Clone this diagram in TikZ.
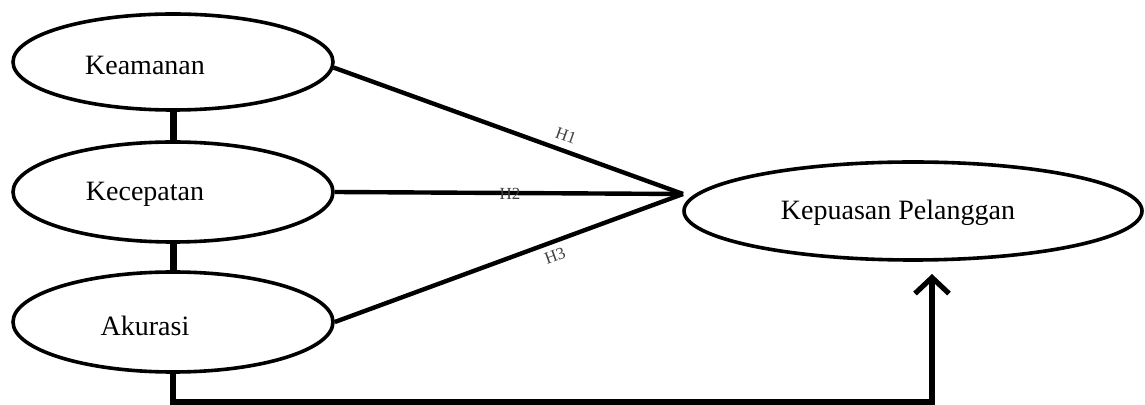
\documentclass[tikz,border=0pt]{standalone}
\usepackage{fontspec}
\setmainfont{Liberation Serif}
\usetikzlibrary{shapes.geometric,arrows.meta}
\begin{document}
\begin{tikzpicture}[x=0.5pt,y=-0.5pt,
  ell/.style={draw=black,line width=1.8pt,ellipse,inner sep=0pt,fill=white},
  lbl/.style={font=\fontsize{14}{16}\selectfont,inner sep=0pt},
  hlbl/.style={font=\fontsize{8.5}{10}\selectfont,text=black!75,inner sep=0pt},
  vline/.style={line width=3.5pt},
  dline/.style={line width=2.2pt},
  aline/.style={line width=3pt,-{Straight Barb[length=8pt,width=17pt,line width=2.6pt]}}]
\useasboundingbox (0,0) rectangle (1145,405);
% ellipses
\node[ell,minimum width=160pt,minimum height=48pt] (kea) at (173,62) {};
\node[ell,minimum width=160pt,minimum height=50pt] (kec) at (173,192) {};
\node[ell,minimum width=160pt,minimum height=50pt] (aku) at (173,322) {};
\node[ell,minimum width=229pt,minimum height=49pt] (kep) at (913,211) {};
% texts
\node[lbl] (tkea) at (145,65) {Keamanan};
\node[lbl] (tkec) at (145,194) {Kecepatan};
\node[lbl] (taku) at (145,326) {Akurasi};
\node[lbl] (tkep) at (898,213) {Kepuasan Pelanggan};
% vertical links
\draw[vline] (kea.south) -- (kec.north);
\draw[vline] (kec.south) -- (aku.north);
% hypothesis lines
\coordinate (apex) at (683,194);
\draw[dline] (kea.-2.5) -- (apex);
\draw[dline] (kec.east) -- (apex);
\draw[dline] (aku.east) -- (apex);
\node[hlbl,rotate=-19.5] (h1) at (566,136) {H1};
\node[hlbl] (h2) at (510,194) {H2};
\node[hlbl,rotate=20] (h3) at (555,256) {H3};
% bottom arrow
\coordinate (corner) at (932,402);
\coordinate (tip) at (932,274);
\draw[aline] (aku.south) |- (corner) -- (tip);
\end{tikzpicture}
\end{document}
